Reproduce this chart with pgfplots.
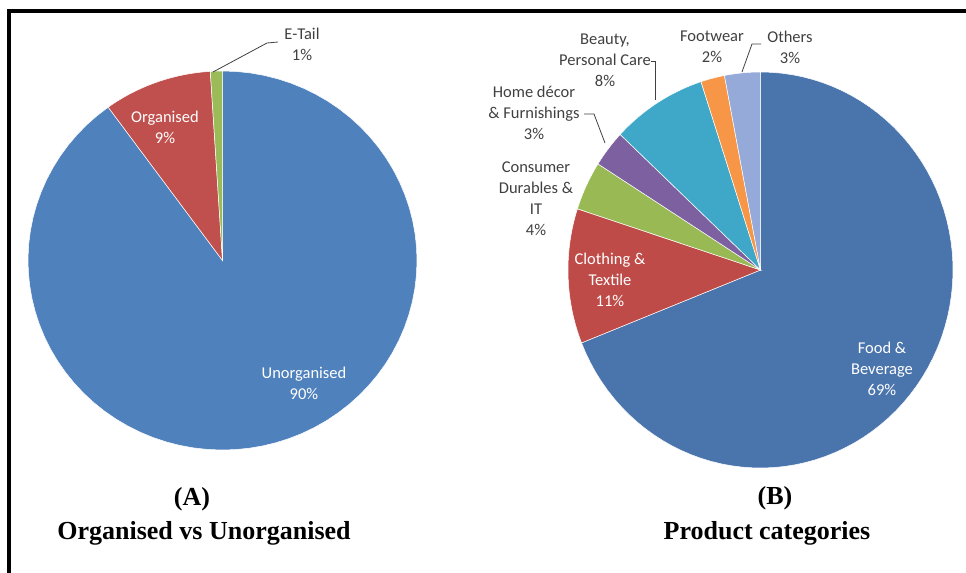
\documentclass[border=0pt]{standalone}
\usepackage{pgfplots}
\pgfplotsset{compat=1.18}
\usepackage{pgfplotstable}
\usepackage{fontspec}
\setmainfont{Liberation Serif}
\newfontfamily\calib{Carlito}

\definecolor{aBlue}{HTML}{4F81BD}
\definecolor{aRed}{HTML}{C0504D}
\definecolor{aGreen}{HTML}{9BBB59}
\definecolor{bBlue}{HTML}{4A74AC}
\definecolor{bRed}{HTML}{BE4B48}
\definecolor{bGreen}{HTML}{98B954}
\definecolor{bPurple}{HTML}{7D60A0}
\definecolor{bAqua}{HTML}{3FA8C8}
\definecolor{bOrange}{HTML}{F79646}
\definecolor{bLight}{HTML}{95AAD8}
\definecolor{lbl}{HTML}{404040}

% Pie A: Organised vs Unorganised (percent, colour), clockwise from 12 o'clock
\pgfplotstableread{
pct col
90 aBlue
9 aRed
1 aGreen
}\dataA

% Pie B: Product categories
\pgfplotstableread{
pct col
69 bBlue
11 bRed
4 bGreen
3 bPurple
8 bAqua
2 bOrange
3 bLight
}\dataB

\newcommand{\pieslices}[1]{%
  \pgfplotstablegetrowsof{#1}\edef\nrows{\pgfplotsretval}%
  \gdef\curang{90}%
  \pgfplotsforeachungrouped \i in {1,...,\nrows} {%
    \pgfmathtruncatemacro\row{\i-1}%
    \pgfplotstablegetelem{\row}{pct}\of#1\let\pct\pgfplotsretval
    \pgfplotstablegetelem{\row}{col}\of#1\let\col\pgfplotsretval
    \pgfmathsetmacro\endang{\curang-3.6*\pct}%
    \edef\doplot{\noexpand\addplot[fill=\col, draw=white, line width=0.5bp,
      domain=\endang:\curang, samples=80, variable=\noexpand\t]
      ({cos(\noexpand\t)},{sin(\noexpand\t)}) -- (axis cs:0,0) -- cycle;}%
    \doplot
    \xdef\curang{\endang}%
  }%
}

\begin{document}
\begin{tikzpicture}
\path[use as bounding box] (0,0) rectangle (966bp,-573bp);

\begin{axis}[at={(222.5bp,-260.5bp)}, anchor=center, scale only axis,
  width=389bp, height=379bp, xmin=-1, xmax=1, ymin=-1, ymax=1,
  hide axis, clip=false]
  \pieslices{\dataA}
\end{axis}

\begin{axis}[at={(760.5bp,-270bp)}, anchor=center, scale only axis,
  width=385bp, height=396bp, xmin=-1, xmax=1, ymin=-1, ymax=1,
  hide axis, clip=false]
  \pieslices{\dataB}
\end{axis}

\begin{scope}[x=1bp, y=-1bp]
  % frame
  \fill[black] (7,9) rectangle (966,13);
  \fill[black] (7,9) rectangle (11,573);

  \tikzset{lab/.style={font=\calib\fontsize{16.5bp}{21bp}\selectfont, align=center, inner sep=0pt, text=lbl},
           wlab/.style={lab, text=white},
           ttl/.style={font=\bfseries\fontsize{26bp}{30bp}\selectfont, inner sep=0pt}}

  % Pie A labels
  \node[wlab] at (165,127.5) {Organised\\9\%};
  \node[lab] at (302,44) {E-Tail\\1\%};
  \draw[lbl, line width=0.8bp] (213,72) -- (267,43) -- (278,42);
  \node[wlab] at (304,383) {Unorganised\\90\%};

  % Pie B labels
  \node[wlab] at (882,369) {Food \&\\Beverage\\69\%};
  \node[wlab] at (610,280) {Clothing \&\\Textile\\11\%};
  \node[lab] at (536,199) {Consumer\\Durables \&\\IT\\4\%};
  \node[lab] at (534,113) {Home décor\\\& Furnishings\\3\%};
  \draw[lbl, line width=0.8bp] (584,114) -- (594,114) -- (605,143);
  \node[lab] at (605,60) {Beauty,\\Personal Care\\8\%};
  \draw[lbl, line width=0.8bp] (651,61) -- (655,61) -- (655,100);
  \node[lab] at (712,47) {Footwear\\2\%};
  \node[lab] at (790,47) {Others\\3\%};
  \draw[lbl, line width=0.8bp] (742,72) -- (752,44) -- (761,44);

  % titles
  \node[ttl] at (192,499) {(A)};
  \node[ttl] at (204,533) {Organised vs Unorganised};
  \node[ttl] at (775,498) {(B)};
  \node[ttl] at (767,533) {Product categories};
\end{scope}
\end{tikzpicture}
\end{document}
